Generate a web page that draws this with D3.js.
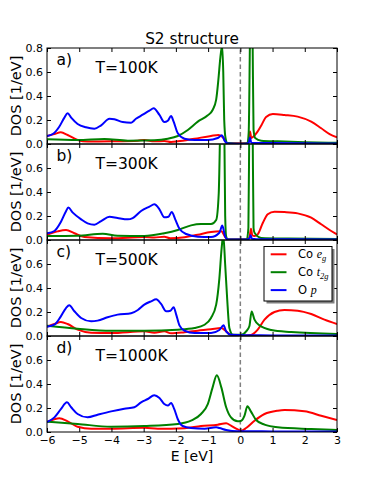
<!DOCTYPE html>
<html>
<head>
<meta charset="utf-8">
<script src="https://cdn.jsdelivr.net/npm/d3@7"></script>
<style>
  html, body { margin: 0; padding: 0; background: #fff; }
  svg { display: block; }
</style>
</head>
<body>
<div id="chart"></div>
<script>
// ---------------- data ----------------
const xTicks = [-6, -5, -4, -3, -2, -1, 0, 1, 2, 3];
const yTicks = [0, 0.2, 0.4, 0.6, 0.8];
const panelLabels = ["a)", "b)", "c)", "d)"];
const tempLabels = ["T=100K", "T=300K", "T=500K", "T=1000K"];
const seriesNames = ["Co e_g", "Co t_2g", "O p"];
const seriesColors = ["#ff0000", "#008000", "#0000ff"];

// Panel a) T=100K  [E (eV), DOS]
const egA = [[-6.00,0.067],[-5.77,0.083],[-5.57,0.097],[-5.36,0.075],[-5.05,0.033],[-4.74,0.02],[-4.01,0.022],[-3.18,0.028],[-2.98,0.033],[-2.67,0.022],[-2.36,0.025],[-2.15,0.017],[-1.94,0.022],[-1.42,0.044],[-0.91,0.067],[-0.68,0.075],[-0.52,0.05],[-0.42,0.006],[0.22,0.006],[0.27,0.03],[0.30,0.105],[0.34,0.05],[0.40,0.06],[0.50,0.09],[0.65,0.155],[0.80,0.225],[1.01,0.25],[1.37,0.242],[1.78,0.228],[2.20,0.186],[2.51,0.131],[2.77,0.083],[3.00,0.056]];
const t2gA = [[-6.00,0.039],[-5.05,0.033],[-4.22,0.042],[-3.49,0.028],[-2.67,0.031],[-2.25,0.044],[-1.94,0.067],[-1.63,0.117],[-1.32,0.186],[-1.01,0.239],[-0.86,0.283],[-0.75,0.37],[-0.68,0.54],[-0.62,0.72],[-0.565,0.82],[-0.53,0.6],[-0.50,0.2],[-0.46,0.05],[-0.40,0.008],[0.0,0.003],[0.22,0.006],[0.26,0.1],[0.30,0.9],[0.34,1.6],[0.38,0.9],[0.41,0.12],[0.46,0.05],[0.65,0.028],[1.16,0.022],[2.0,0.015],[3.0,0.01]];
const opA = [[-6.00,0.067],[-5.82,0.083],[-5.62,0.144],[-5.46,0.22],[-5.36,0.256],[-5.25,0.22],[-5.05,0.167],[-4.79,0.139],[-4.53,0.128],[-4.32,0.156],[-4.06,0.21],[-3.91,0.206],[-3.65,0.183],[-3.39,0.178],[-3.24,0.21],[-3.03,0.244],[-2.82,0.278],[-2.69,0.297],[-2.51,0.242],[-2.36,0.183],[-2.25,0.194],[-2.15,0.233],[-2.07,0.186],[-1.94,0.089],[-1.73,0.044],[-1.42,0.033],[-1.01,0.033],[-0.70,0.05],[-0.57,0.072],[-0.49,0.028],[-0.39,0.005],[0.13,0.003],[0.26,0.008],[0.30,0.055],[0.34,0.01],[0.5,0.008],[1.0,0.008],[2.0,0.006],[3.0,0.004]];

// Panel b) T=300K
const egB = [[-6.00,0.044],[-5.67,0.072],[-5.41,0.083],[-5.15,0.056],[-4.84,0.025],[-4.01,0.014],[-2.98,0.025],[-2.67,0.02],[-2.36,0.028],[-2.17,0.014],[-1.73,0.022],[-1.32,0.044],[-0.91,0.067],[-0.59,0.072],[-0.46,0.02],[-0.36,0.005],[0.23,0.006],[0.29,0.03],[0.33,0.094],[0.37,0.04],[0.44,0.033],[0.54,0.047],[0.70,0.144],[0.85,0.214],[1.06,0.236],[1.37,0.233],[1.78,0.222],[2.20,0.186],[2.51,0.131],[2.82,0.075],[3.00,0.047]];
const t2gB = [[-6.00,0.033],[-5.05,0.036],[-4.27,0.053],[-3.81,0.036],[-2.98,0.033],[-2.36,0.056],[-1.94,0.083],[-1.53,0.122],[-1.22,0.133],[-0.91,0.133],[-0.75,0.167],[-0.67,0.39],[-0.62,1.0],[-0.56,1.4],[-0.50,1.0],[-0.47,0.2],[-0.44,0.03],[-0.39,0.005],[0.2,0.004],[0.25,0.1],[0.28,1.0],[0.33,1.6],[0.38,1.0],[0.41,0.1],[0.44,0.06],[0.65,0.017],[1.5,0.012],[3.0,0.008]];
const opB = [[-6.00,0.056],[-5.77,0.075],[-5.57,0.15],[-5.41,0.24],[-5.34,0.27],[-5.20,0.228],[-4.94,0.172],[-4.74,0.139],[-4.53,0.128],[-4.32,0.158],[-4.06,0.194],[-3.81,0.183],[-3.49,0.172],[-3.34,0.183],[-3.08,0.242],[-2.82,0.278],[-2.67,0.297],[-2.51,0.256],[-2.36,0.189],[-2.23,0.194],[-2.13,0.233],[-2.02,0.172],[-1.89,0.094],[-1.68,0.05],[-1.32,0.028],[-0.91,0.025],[-0.65,0.061],[-0.56,0.12],[-0.47,0.028],[-0.39,0.005],[0.2,0.004],[0.28,0.012],[0.32,0.04],[0.36,0.01],[0.5,0.007],[1.5,0.006],[3.0,0.004]];

// Panel c) T=500K
const egC = [[-6.00,0.078],[-5.77,0.1],[-5.57,0.117],[-5.36,0.1],[-5.05,0.053],[-4.63,0.028],[-4.01,0.025],[-2.98,0.039],[-2.67,0.028],[-2.36,0.039],[-2.15,0.022],[-1.73,0.031],[-1.32,0.044],[-0.91,0.056],[-0.59,0.067],[-0.44,0.039],[-0.29,0.01],[0.13,0.003],[0.33,0.008],[0.54,0.053],[0.75,0.136],[1.06,0.2],[1.37,0.217],[1.78,0.211],[2.20,0.183],[2.61,0.136],[3.00,0.1]];
const t2gC = [[-6.00,0.086],[-5.05,0.061],[-4.01,0.044],[-2.98,0.044],[-1.94,0.053],[-1.42,0.067],[-1.11,0.094],[-0.91,0.15],[-0.75,0.261],[-0.65,0.483],[-0.58,0.733],[-0.53,0.84],[-0.47,0.594],[-0.41,0.317],[-0.34,0.067],[-0.23,0.01],[0.03,0.01],[0.18,0.039],[0.28,0.081],[0.35,0.205],[0.44,0.136],[0.59,0.089],[0.96,0.05],[1.58,0.033],[3.00,0.017]];
const opC = [[-6.00,0.078],[-5.77,0.094],[-5.57,0.164],[-5.41,0.233],[-5.31,0.256],[-5.15,0.206],[-4.94,0.15],[-4.63,0.122],[-4.43,0.128],[-4.12,0.156],[-3.81,0.178],[-3.39,0.189],[-3.18,0.217],[-2.98,0.261],[-2.77,0.289],[-2.61,0.306],[-2.46,0.267],[-2.30,0.206],[-2.17,0.211],[-2.07,0.239],[-1.99,0.178],[-1.89,0.089],[-1.73,0.044],[-1.42,0.025],[-0.91,0.025],[-0.65,0.05],[-0.52,0.089],[-0.44,0.039],[-0.29,0.01],[0.13,0.006],[1.0,0.005],[3.0,0.004]];

// Panel d) T=1000K
const egD = [[-6.00,0.083],[-5.77,0.106],[-5.62,0.114],[-5.36,0.089],[-5.05,0.044],[-4.63,0.028],[-4.01,0.028],[-2.98,0.036],[-2.56,0.028],[-2.15,0.028],[-1.73,0.031],[-1.22,0.05],[-0.70,0.061],[-0.44,0.072],[-0.29,0.053],[-0.08,0.022],[0.03,0.011],[0.18,0.033],[0.44,0.094],[0.75,0.15],[1.16,0.178],[1.37,0.183],[1.99,0.172],[2.51,0.136],[3.00,0.1]];
const t2gD = [[-6.00,0.086],[-5.05,0.067],[-4.01,0.044],[-2.98,0.05],[-1.94,0.067],[-1.53,0.094],[-1.22,0.15],[-1.01,0.233],[-0.86,0.372],[-0.73,0.472],[-0.59,0.372],[-0.44,0.206],[-0.29,0.122],[-0.08,0.089],[0.03,0.094],[0.13,0.136],[0.22,0.215],[0.33,0.17],[0.49,0.1],[0.75,0.061],[1.16,0.039],[2.20,0.025],[3.00,0.017]];
const opD = [[-6.00,0.083],[-5.77,0.122],[-5.57,0.19],[-5.38,0.247],[-5.25,0.206],[-5.05,0.15],[-4.74,0.122],[-4.43,0.144],[-4.01,0.172],[-3.60,0.194],[-3.29,0.206],[-3.08,0.247],[-2.87,0.275],[-2.67,0.306],[-2.51,0.283],[-2.36,0.233],[-2.25,0.22],[-2.15,0.242],[-2.05,0.19],[-1.94,0.106],[-1.79,0.05],[-1.53,0.033],[-1.11,0.028],[-0.75,0.039],[-0.65,0.033],[-0.44,0.017],[-0.08,0.006],[1.0,0.005],[3.0,0.004]];

const panels = [
  [egA, t2gA, opA],
  [egB, t2gB, opB],
  [egC, t2gC, opC],
  [egD, t2gD, opD]
];

// ---------------- layout ----------------
const W = 374, H = 481;
const mLeft = 47, mRight = 337, mTop = 48, panelH = 96;
const FONT = "'DejaVu Sans', sans-serif";

const svg = d3.select("#chart").append("svg")
  .attr("width", W).attr("height", H)
  .attr("font-family", FONT);

const x = d3.scaleLinear().domain([-6, 3]).range([mLeft, mRight]);

svg.append("text")
  .attr("x", (mLeft + mRight) / 2).attr("y", 44)
  .attr("text-anchor", "middle")
  .attr("font-size", 15.3)
  .text("S2 structure");

panels.forEach((series, i) => {
  const y0 = mTop + i * panelH;
  const y = d3.scaleLinear().domain([0, 0.8]).range([y0 + panelH, y0]);
  const g = svg.append("g");

  const clipId = "clip" + i;
  svg.append("clipPath").attr("id", clipId)
    .append("rect").attr("x", mLeft).attr("y", y0)
    .attr("width", mRight - mLeft).attr("height", panelH);

  // dashed zero line
  g.append("line")
    .attr("x1", x(0)).attr("x2", x(0))
    .attr("y1", y(0)).attr("y2", y(0.8))
    .attr("stroke", "#808080").attr("stroke-width", 1.5)
    .attr("stroke-dasharray", "4.5,3");

  const line = d3.line()
    .x(d => x(d[0])).y(d => y(d[1]))
    .curve(d3.curveMonotoneX);

  const lg = g.append("g").attr("clip-path", `url(#${clipId})`);
  series.forEach((data, k) => {
    lg.append("path")
      .datum(data)
      .attr("d", line)
      .attr("fill", "none")
      .attr("stroke", seriesColors[k])
      .attr("stroke-width", 2)
      .attr("stroke-linejoin", "round");
  });

  // axes (inward ticks)
  const styleAxis = sel => {
    sel.select(".domain").remove();
    sel.selectAll(".tick line").attr("stroke", "#000").attr("stroke-width", 1);
    sel.selectAll("text").attr("font-family", FONT).attr("font-size", 11).attr("fill", "#000");
  };

  g.append("g").attr("transform", `translate(${mLeft},0)`)
    .call(d3.axisLeft(y).tickValues(yTicks).tickSize(-4).tickPadding(4)
      .tickFormat(v => (i > 0 && v === 0.8) ? "" : d3.format(".1f")(v)))
    .call(styleAxis);

  g.append("g").attr("transform", `translate(${mRight},0)`)
    .call(d3.axisRight(y).tickValues(yTicks).tickSize(-4).tickFormat(""))
    .call(styleAxis);

  g.append("g").attr("transform", `translate(0,${y0})`)
    .call(d3.axisTop(x).tickValues(xTicks).tickSize(-4).tickFormat(""))
    .call(styleAxis);

  g.append("g").attr("transform", `translate(0,${y0 + panelH})`)
    .call(d3.axisBottom(x).tickValues(xTicks).tickSize(-4).tickPadding(4)
      .tickFormat(i === panels.length - 1 ? d3.format("d") : ""))
    .call(styleAxis);

  // frame
  g.append("rect")
    .attr("x", mLeft).attr("y", y0)
    .attr("width", mRight - mLeft).attr("height", panelH)
    .attr("fill", "none").attr("stroke", "#000").attr("stroke-width", 1);

  // labels
  g.append("text").attr("x", 56.5).attr("y", y0 + 17)
    .attr("font-size", 15.5).text(panelLabels[i]);
  g.append("text").attr("x", 95.5).attr("y", y0 + 24.7)
    .attr("font-size", 15.5).text(tempLabels[i]);

  g.append("text")
    .attr("transform", `translate(20.5,${y0 + panelH / 2}) rotate(-90)`)
    .attr("text-anchor", "middle")
    .attr("font-size", 14.5)
    .text("DOS [1/eV]");
});

svg.append("text")
  .attr("x", (mLeft + mRight) / 2).attr("y", 461)
  .attr("text-anchor", "middle")
  .attr("font-size", 14)
  .text("E [eV]");

// ---------------- legend (in panel c) ----------------
const leg = svg.append("g");
const lx = 264, ly = 246.5, lw = 68, lh = 54.5;
leg.append("rect").attr("x", lx + 2.5).attr("y", ly + 2.5)
  .attr("width", lw).attr("height", lh).attr("fill", "#7f7f7f");
leg.append("rect").attr("x", lx).attr("y", ly)
  .attr("width", lw).attr("height", lh)
  .attr("fill", "#fff").attr("stroke", "#000").attr("stroke-width", 1);

const legParts = [
  { base: "Co ", sym: "e", sub: "g" },
  { base: "Co ", sym: "t", sub: "2g" },
  { base: "O ", sym: "p", sub: "" }
];
legParts.forEach((p, k) => {
  const yy = 254.3 + k * 17.9;
  leg.append("line")
    .attr("x1", 270.7).attr("x2", 286.5)
    .attr("y1", yy).attr("y2", yy)
    .attr("stroke", seriesColors[k]).attr("stroke-width", 2);
  const t = leg.append("text").attr("x", 298).attr("y", yy + 4)
    .attr("font-size", 11.5).attr("font-family", FONT);
  t.append("tspan").text(p.base);
  t.append("tspan").attr("font-family", "'Liberation Serif', serif")
    .attr("font-style", "italic").attr("font-size", 12).text(p.sym);
  if (p.sub) {
    t.append("tspan").attr("font-family", "'Liberation Serif', serif")
      .attr("font-style", "italic").attr("font-size", 8.5)
      .attr("dy", 2.5).text(p.sub);
  }
});
</script>
</body>
</html>
